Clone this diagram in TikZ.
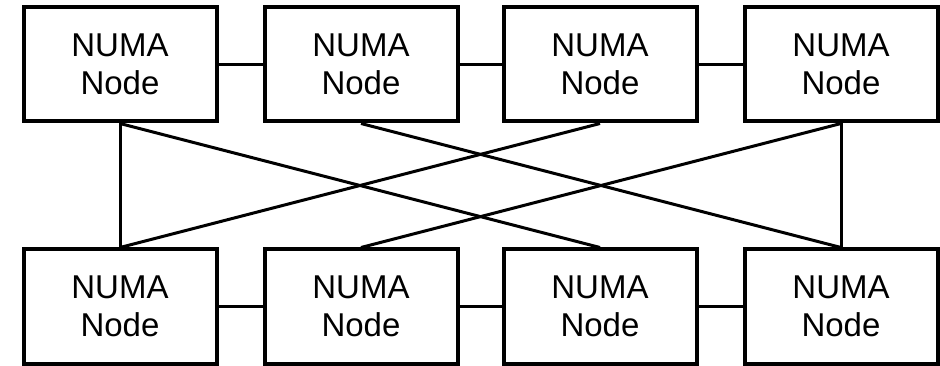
\documentclass[tikz,border=0pt]{standalone}
\usepackage{fontspec}
\setmainfont{Liberation Sans}
\begin{document}
\begin{tikzpicture}[x=1pt,y=-1pt,
  numa/.style={draw, line width=4pt, minimum width=193pt, minimum height=114pt,
    inner sep=0pt, align=center, font=\fontsize{33}{38}\selectfont},
  link/.style={line width=3pt}]
\useasboundingbox (0,0) rectangle (940,366);
% top row
\node[numa] (t1) at (120,64.5) {NUMA\\Node};
\node[numa] (t2) at (361,64.5) {NUMA\\Node};
\node[numa] (t3) at (600,64.5) {NUMA\\Node};
\node[numa] (t4) at (841,64.5) {NUMA\\Node};
% bottom row
\node[numa] (b1) at (120,306.5) {NUMA\\Node};
\node[numa] (b2) at (361,306.5) {NUMA\\Node};
\node[numa] (b3) at (600,306.5) {NUMA\\Node};
\node[numa] (b4) at (841,306.5) {NUMA\\Node};
% ring links within each row
\draw[link] (t1.east) -- (t2.west);
\draw[link] (t2.east) -- (t3.west);
\draw[link] (t3.east) -- (t4.west);
\draw[link] (b1.east) -- (b2.west);
\draw[link] (b2.east) -- (b3.west);
\draw[link] (b3.east) -- (b4.west);
% links between the rows
\draw[link] (t1.south) -- (b1.north);
\draw[link] (t4.south) -- (b4.north);
\draw[link] (t1.south) -- (b3.north);
\draw[link] (b1.north) -- (t3.south);
\draw[link] (t2.south) -- (b4.north);
\draw[link] (b2.north) -- (t4.south);
\end{tikzpicture}
\end{document}
